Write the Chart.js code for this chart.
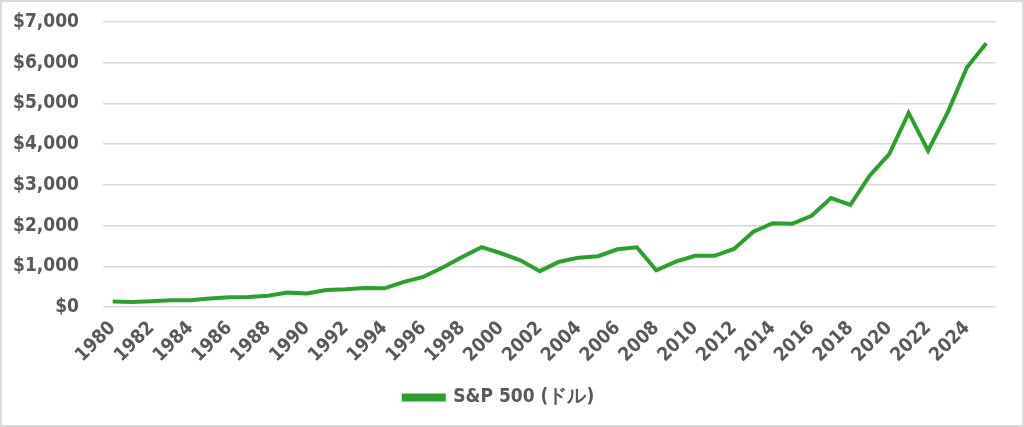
<!DOCTYPE html>
<html>
<head>
<meta charset="utf-8">
<script src="https://cdn.jsdelivr.net/npm/chart.js@4"></script>
<style>
  html, body { margin: 0; padding: 0; background: #fff; }
  #wrap { width: 1024px; height: 427px; box-sizing: border-box; border: 2px solid #d9d9d9; position: relative; }
</style>
</head>
<body>
<div id="wrap"><canvas id="myChart"></canvas></div>
<script>
// years and year-end S&P 500 values (USD)
const years = [];
for (let y = 1980; y <= 2025; y++) years.push(String(y));
const spx = [136, 122, 141, 165, 167, 211, 242, 247, 278, 353,
             330, 417, 436, 466, 459, 616, 741, 970, 1229, 1469,
             1320, 1148, 880, 1112, 1212, 1248, 1418, 1468, 903, 1115,
             1258, 1258, 1426, 1848, 2059, 2044, 2239, 2674, 2507, 3231,
             3756, 4766, 3840, 4770, 5882, 6480];
const seriesLabel = 'S&P 500 (ドル)';

const grey = '#595959';
const font = {family: '"DejaVu Sans Condensed", "DejaVu Sans", sans-serif', size: 19, weight: 'bold'};

const data = {
  labels: years,
  datasets: [{
    label: seriesLabel,
    data: spx,
    borderColor: '#2ca02c',
    backgroundColor: '#2ca02c',
    borderWidth: 4,
    pointRadius: 0,
    tension: 0
  }]
};

const config = {
  type: 'line',
  data: data,
  options: {
    responsive: true,
    maintainAspectRatio: false,
    animation: false,
    layout: {padding: {top: 20, left: 0, right: 26, bottom: 8}},
    scales: {
      x: {
        offset: true,
        grid: {display: false},
        border: {display: false},
        ticks: {
          color: grey,
          font: font,
          autoSkip: false,
          maxRotation: 45,
          minRotation: 45,
          padding: 2,
          callback: function(v, i) { return i % 2 === 0 ? this.getLabelForValue(v) : ''; }
        },
        afterFit: s => { s.height = 73; s.paddingLeft = 0; s.paddingRight = 0; }
      },
      y: {
        min: 0,
        max: 7000,
        grid: {color: '#d9d9d9', lineWidth: 1.5, drawTicks: false},
        border: {display: false},
        ticks: {
          stepSize: 1000,
          color: grey,
          font: font,
          padding: 24,
          callback: v => '$' + v.toLocaleString('en-US')
        },
        afterFit: s => { s.width = 101; s.paddingTop = 0; s.paddingBottom = 0; }
      }
    },
    plugins: {
      legend: {
        position: 'bottom',
        labels: {color: grey, font: font, boxWidth: 40, boxHeight: 4, padding: 8}
      },
      tooltip: {enabled: false}
    }
  }
};
var myChart = new Chart(document.getElementById('myChart'), config);
</script>
</body>
</html>
